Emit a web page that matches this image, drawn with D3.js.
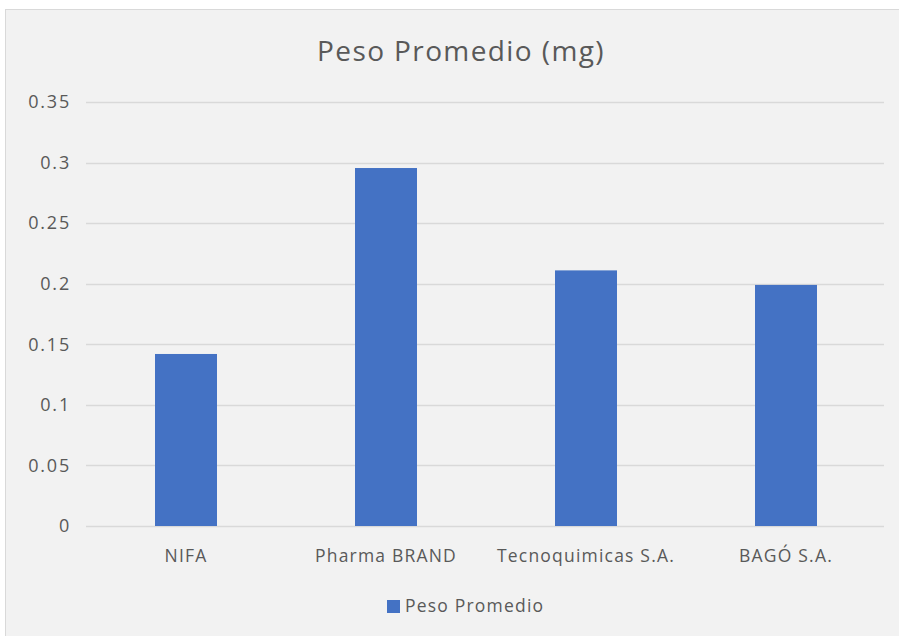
<!DOCTYPE html>
<html>
<head>
<meta charset="utf-8">
<script src="https://cdn.jsdelivr.net/npm/d3@7"></script>
<style>
  html, body { margin: 0; padding: 0; background: #ffffff; }
  text { font-family: "Open Sans", "Noto Sans", sans-serif; }
</style>
</head>
<body>
<script>
// data
const categories = ["NIFA", "Pharma BRAND", "Tecnoquimicas S.A.", "BAGÓ S.A."];
const pesoPromedio = [0.142, 0.2955, 0.211, 0.199];
const yTicks = [0, 0.05, 0.1, 0.15, 0.2, 0.25, 0.3, 0.35];
const seriesName = "Peso Promedio";
const chartTitle = "Peso Promedio (mg)";

const W = 899, H = 636;
const barColor = "#4472c4";
const textColor = "#595959";

const svg = d3.select("body").append("svg")
  .attr("width", W)
  .attr("height", H);

// chart area background + border
svg.append("rect")
  .attr("x", 5.5).attr("y", 9.5)
  .attr("width", W).attr("height", H)
  .attr("fill", "#f2f2f2")
  .attr("stroke", "#d9d9d9");

const x = d3.scaleBand()
  .domain(categories)
  .range([86, 886])
  .paddingInner(0.69)
  .paddingOuter(0.345);

const y = d3.scaleLinear()
  .domain([0, 0.35])
  .range([526, 102]);

// gridlines
svg.append("g")
  .selectAll("line")
  .data(yTicks)
  .join("line")
  .attr("x1", 86)
  .attr("x2", 884)
  .attr("y1", d => Math.round(y(d)) + 0.5)
  .attr("y2", d => Math.round(y(d)) + 0.5)
  .attr("stroke", "#d9d9d9")
  .attr("stroke-width", 1.3);

// y tick labels
svg.append("g")
  .selectAll("text")
  .data(yTicks)
  .join("text")
  .attr("x", 71)
  .attr("y", d => y(d))
  .attr("dy", "0.35em")
  .attr("text-anchor", "end")
  .attr("fill", textColor)
  .attr("font-size", "18px")
  .attr("letter-spacing", "1.8px")
  .text(d => String(d));

// bars
svg.append("g")
  .selectAll("rect")
  .data(pesoPromedio)
  .join("rect")
  .attr("x", (d, i) => x(categories[i]))
  .attr("width", x.bandwidth())
  .attr("y", d => y(d))
  .attr("height", d => y(0) - y(d))
  .attr("fill", barColor);

// x labels
svg.append("g")
  .selectAll("text")
  .data(categories)
  .join("text")
  .attr("x", d => x(d) + x.bandwidth() / 2)
  .attr("y", 556)
  .attr("dy", "0.35em")
  .attr("text-anchor", "middle")
  .attr("fill", textColor)
  .attr("font-size", "17.5px")
  .attr("letter-spacing", "1.2px")
  .text(d => d);

// title
svg.append("text")
  .attr("x", 461)
  .attr("y", 51)
  .attr("dy", "0.35em")
  .attr("text-anchor", "middle")
  .attr("fill", textColor)
  .attr("font-size", "28px")
  .attr("letter-spacing", "1.4px")
  .text(chartTitle);

// legend
const legend = svg.append("g");
legend.append("rect")
  .attr("x", 387).attr("y", 600)
  .attr("width", 13).attr("height", 13)
  .attr("fill", barColor);
legend.append("text")
  .attr("x", 405)
  .attr("y", 606)
  .attr("dy", "0.35em")
  .attr("fill", textColor)
  .attr("font-size", "17.5px")
  .attr("letter-spacing", "1.2px")
  .text(seriesName);
</script>
</body>
</html>
